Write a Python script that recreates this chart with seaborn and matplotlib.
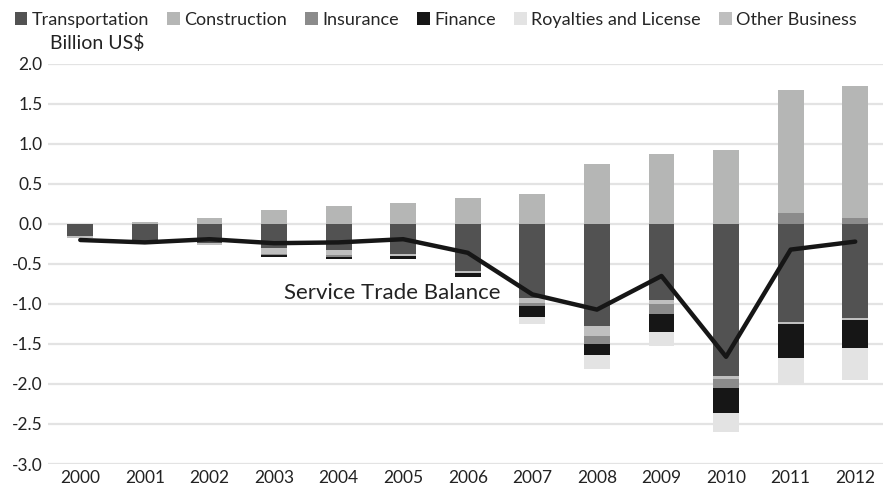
import numpy as np
import pandas as pd
import matplotlib
matplotlib.use("Agg")
import matplotlib.pyplot as plt
from matplotlib.patches import Patch
import seaborn as sns

years = [str(y) for y in range(2000, 2013)]

transportation = [-0.15, -0.25, -0.24, -0.30, -0.33, -0.38, -0.59, -0.92, -1.27, -0.95, -1.90, -1.23, -1.17]
other_business = [-0.03, 0.00, -0.02, -0.08, -0.06, -0.02, -0.02, -0.07, -0.125, -0.05, -0.04, -0.025, -0.03]
insurance = [0.00, 0.00, 0.00, -0.01, -0.02, 0.00, 0.00, -0.03, -0.10, -0.13, -0.11, 0.14, 0.07]
construction = [0.00, 0.02, 0.07, 0.17, 0.22, 0.26, 0.33, 0.37, 0.75, 0.87, 0.93, 1.53, 1.65]
finance = [0.00, 0.00, 0.00, -0.02, -0.03, -0.04, -0.05, -0.14, -0.145, -0.22, -0.31, -0.42, -0.345]
royalties = [0.00, 0.00, 0.00, 0.00, 0.00, 0.00, 0.00, -0.09, -0.17, -0.17, -0.24, -0.31, -0.41]
balance = [-0.20, -0.23, -0.19, -0.24, -0.23, -0.19, -0.36, -0.88, -1.07, -0.65, -1.66, -0.32, -0.22]

# drawing order of the stacked segments (closest to zero first)
stack = [
    ("Transportation", transportation, "#525252"),
    ("Other Business", other_business, "#bfbfbf"),
    ("Insurance", insurance, "#8b8b8b"),
    ("Construction", construction, "#b5b6b5"),
    ("Finance", finance, "#161616"),
    ("Royalties and License", royalties, "#e3e3e3"),
]
legend_order = ["Transportation", "Construction", "Insurance", "Finance",
                "Royalties and License", "Other Business"]

sns.set_theme(style="white")
plt.rcParams["font.family"] = ["Lato", "DejaVu Sans"]

fig = plt.figure(figsize=(8.83, 4.86), dpi=100)
ax = fig.add_axes([48 / 883, 1 - 464 / 486, 835 / 883, 400 / 486])

x = np.arange(len(years))
pos_base = np.zeros(len(years))
neg_base = np.zeros(len(years))
colors = {}
for name, vals, color in stack:
    v = np.array(vals, dtype=float)
    bottom = np.where(v >= 0, pos_base, neg_base)
    ax.bar(x, v, bottom=bottom, width=0.4, color=color, edgecolor="none",
           zorder=2)
    pos_base = pos_base + np.where(v > 0, v, 0)
    neg_base = neg_base + np.where(v < 0, v, 0)
    colors[name] = color

line_df = pd.DataFrame({"x": x, "balance": balance})
sns.lineplot(data=line_df, x="x", y="balance", ax=ax, color="#161616",
             linewidth=3.2, zorder=4)

ax.text(4.83, -0.86, "Service Trade Balance", fontsize=16, color="#222222",
        ha="center", va="center", zorder=5)

ax.set_xlim(-0.5, 12.43)
ax.set_ylim(-3.0, 2.0)
ax.set_yticks(np.arange(-3.0, 2.01, 0.5))
ax.set_yticklabels([f"{t:.1f}" for t in np.arange(-3.0, 2.01, 0.5)])
ax.set_xticks(x)
ax.set_xticklabels(years)
ax.yaxis.grid(True, color="#e3e3e3", linewidth=1.6, zorder=0)
ax.xaxis.grid(False)
ax.set_axisbelow(True)
for s in ax.spines.values():
    s.set_visible(False)
ax.tick_params(axis="both", length=0, labelsize=12.5, colors="#222222", pad=4)
ax.set_xlabel("")
ax.set_ylabel("")

handles = [Patch(facecolor=colors[n], edgecolor="none", label=n) for n in legend_order]
fig.legend(handles=handles, loc="upper left", bbox_to_anchor=(4 / 883, 0.998),
           ncol=6, frameon=False, fontsize=13, handlelength=0.7,
           handleheight=0.7, handletextpad=0.25, columnspacing=1.0,
           borderaxespad=0.2)
fig.text(50 / 883, 1 - 43 / 486, "Billion US$", fontsize=14, color="#222222",
         ha="left", va="center")

fig.savefig("out.png", dpi=100)
